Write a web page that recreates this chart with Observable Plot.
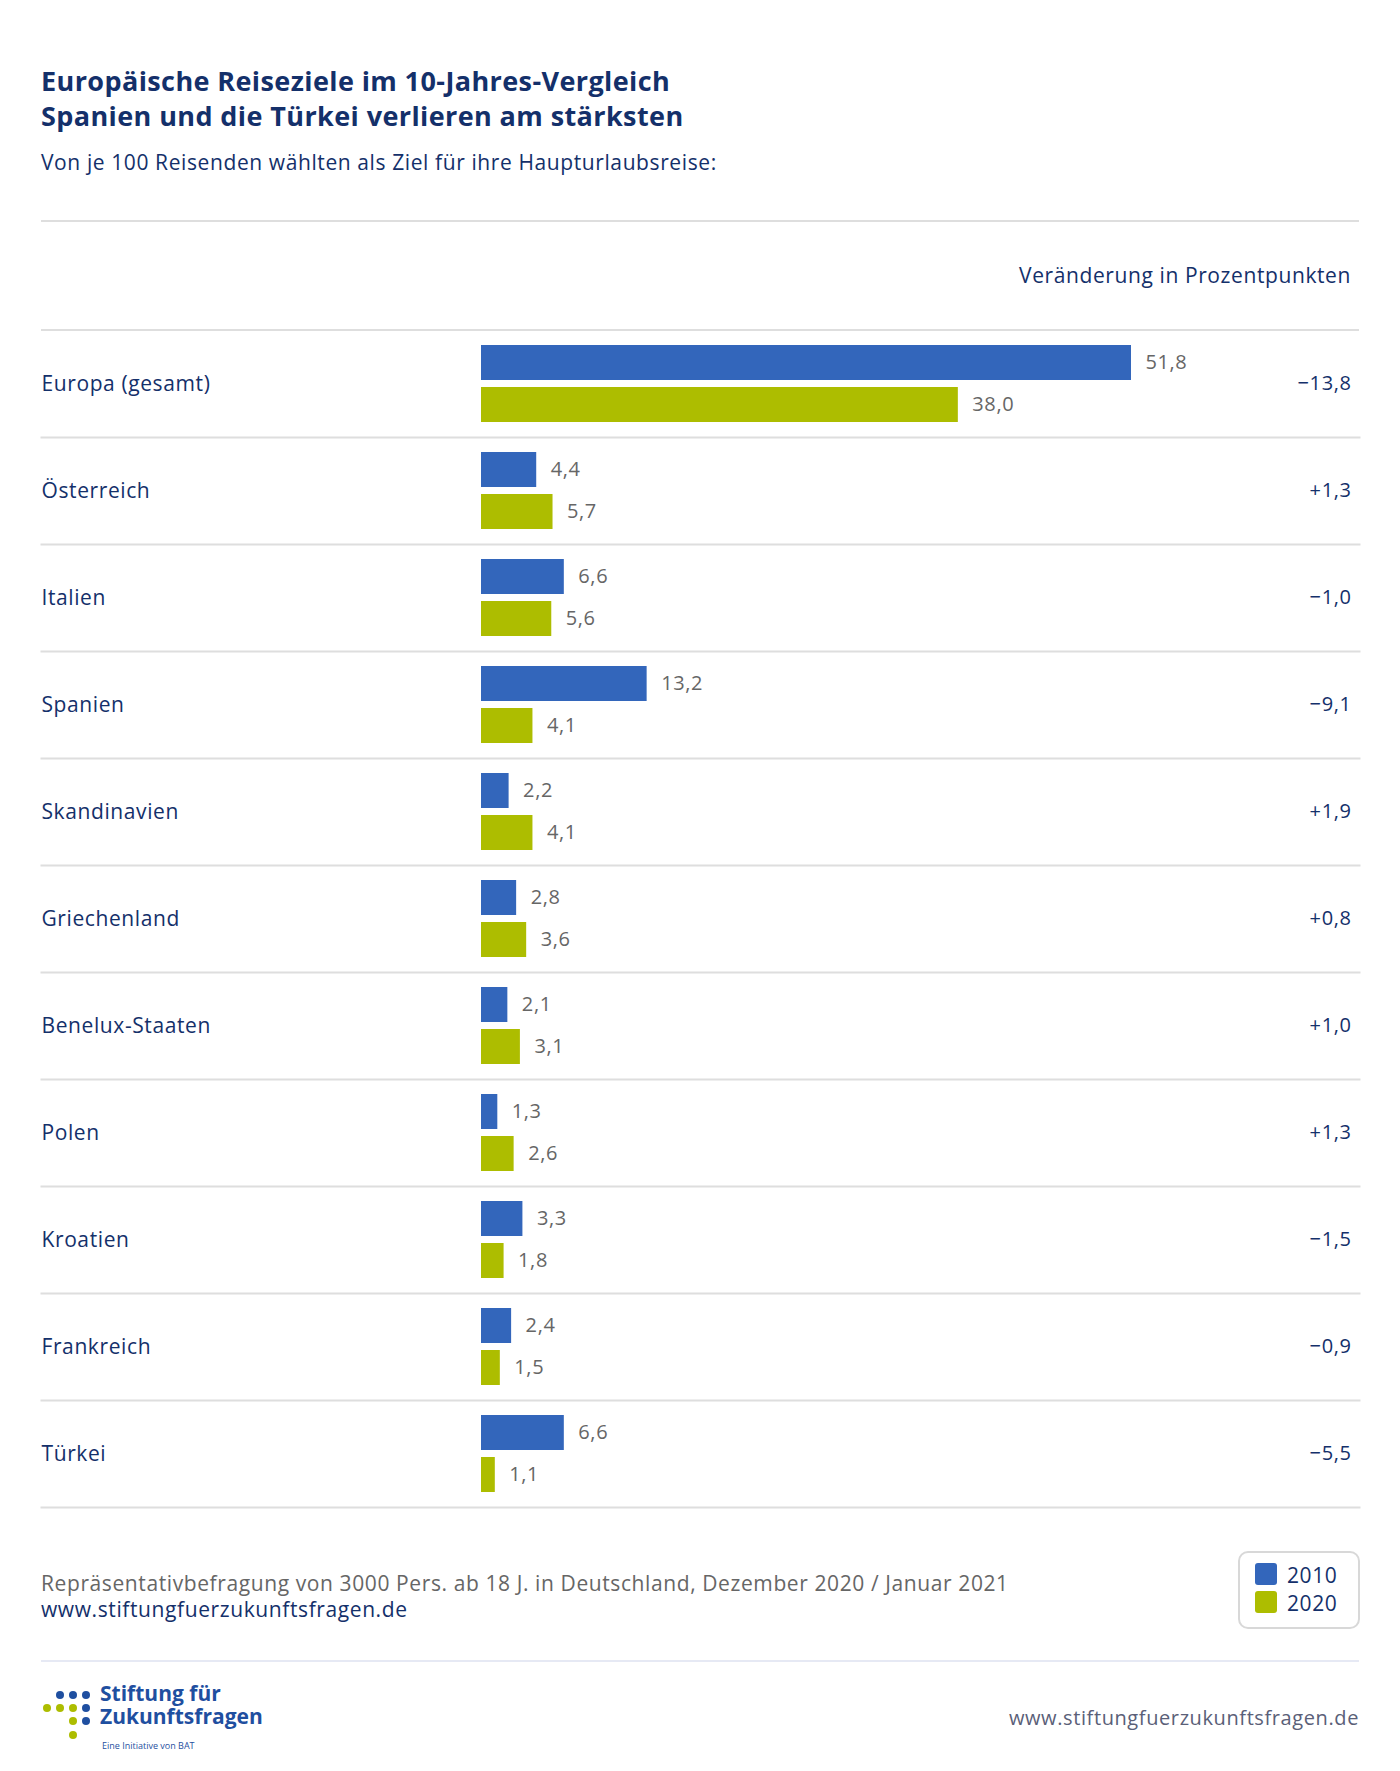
<!DOCTYPE html>
<html><head><meta charset="utf-8">
<script src="https://cdn.jsdelivr.net/npm/d3@7"></script>
<script src="https://cdn.jsdelivr.net/npm/@observablehq/plot@0.6"></script>
<style>
body{margin:0;background:#fff;font-family:"Open Sans",sans-serif;}
#page{position:relative;width:1400px;height:1771px;letter-spacing:0.6px;}
.a{position:absolute;white-space:nowrap;}
.rule{position:absolute;left:41px;width:1318px;height:2px;background:#dedede;}
.dot{position:absolute;width:8px;height:8px;border-radius:50%;}
</style></head><body><div id="page">
<div class="a" style="left:41px;top:63px;font-size:27px;line-height:35px;font-weight:700;color:#14306a;letter-spacing:0.4px;">Europäische Reiseziele im 10-Jahres-Vergleich<br>Spanien und die Türkei verlieren am stärksten</div>
<div class="a" style="left:41px;top:150px;font-size:21px;line-height:24px;color:#14306a;">Von je 100 Reisenden wählten als Ziel für ihre Haupturlaubsreise:</div>
<div class="rule" style="top:220px;"></div>
<div class="a" style="right:49px;top:263px;font-size:21px;line-height:24px;color:#14306a;">Veränderung in Prozentpunkten</div>
<div class="rule" style="top:329px;"></div>
<div id="chart" class="a" style="left:41px;top:330px;"></div>
<div class="a" style="left:41px;top:1570px;font-size:21px;line-height:26px;color:#666;">Repräsentativbefragung von 3000 Pers. ab 18 J. in Deutschland, Dezember 2020 / Januar 2021<br><span style="color:#14306a">www.stiftungfuerzukunftsfragen.de</span></div>
<div class="a" style="left:1238px;top:1551px;width:118px;height:74px;border:2px solid #d8d8d8;border-radius:10px;"></div>
<div class="a" style="left:1255px;top:1563px;width:22px;height:22px;background:#3366bb;border-radius:3px;"></div>
<div class="a" style="left:1255px;top:1591px;width:22px;height:22px;background:#adbd00;border-radius:3px;"></div>
<div class="a" style="left:1287px;top:1561px;font-size:21px;line-height:28px;color:#14306a;">2010<br>2020</div>
<div class="rule" style="top:1660px;background:#e6e9f4;"></div>
<div class="dot" style="left:56px;top:1691px;background:#1f4fa0"></div>
<div class="dot" style="left:69px;top:1691px;background:#1f4fa0"></div>
<div class="dot" style="left:82px;top:1691px;background:#1f4fa0"></div>
<div class="dot" style="left:43px;top:1704px;background:#adbd00"></div>
<div class="dot" style="left:56px;top:1704px;background:#adbd00"></div>
<div class="dot" style="left:69px;top:1704px;background:#adbd00"></div>
<div class="dot" style="left:82px;top:1704px;background:#1f4fa0"></div>
<div class="dot" style="left:69px;top:1717px;background:#adbd00"></div>
<div class="dot" style="left:82px;top:1717px;background:#1f4fa0"></div>
<div class="dot" style="left:69px;top:1731px;background:#adbd00"></div>
<div class="a" style="left:100px;top:1682px;font-size:21px;line-height:23px;font-weight:700;color:#1f4fa0;letter-spacing:0px;">Stiftung für<br>Zukunftsfragen</div>
<div class="a" style="left:102px;top:1741px;font-size:9px;line-height:10px;color:#1f4fa0;letter-spacing:0px;">Eine Initiative von BAT</div>
<div class="a" style="right:41px;top:1704px;font-size:20px;color:#5a6078;">www.stiftungfuerzukunftsfragen.de</div>
</div>
<script>
const countries = ["Europa (gesamt)","Österreich","Italien","Spanien","Skandinavien","Griechenland","Benelux-Staaten","Polen","Kroatien","Frankreich","Türkei"];
const v2010 = [51.8,4.4,6.6,13.2,2.2,2.8,2.1,1.3,3.3,2.4,6.6];
const v2020 = [38.0,5.7,5.6,4.1,4.1,3.6,3.1,2.6,1.8,1.5,1.1];
const changes = ["−13,8","+1,3","−1,0","−9,1","+1,9","+0,8","+1,0","+1,3","−1,5","−0,9","−5,5"];
const years = ["2010","2020"];
const bars = countries.flatMap((c,i)=>[{country:c,year:"2010",value:v2010[i]},{country:c,year:"2020",value:v2020[i]}]);
const rows = countries.map((c,i)=>({country:c,change:changes[i]}));
const fmt = v => v.toFixed(1).replace(".",",");
const chart = Plot.plot({
  width:1318, height:11*107, marginTop:0, marginBottom:0, marginLeft:440, marginRight:0,
  style:{fontFamily:"'Open Sans',sans-serif", fontSize:"21px", background:"transparent", overflow:"visible", letterSpacing:"0.6px"},
  x:{domain:[0,51.8], range:[440,1090], axis:null},
  y:{domain:years, paddingInner:7/42, paddingOuter:0.357, axis:null},
  fy:{domain:countries, padding:0, axis:null},
  color:{domain:years, range:["#3366bb","#adbd00"]},
  marks:[
    Plot.frame({anchor:"bottom", stroke:"#dedede", strokeWidth:2, insetLeft:-440}),
    Plot.barX(bars,{fy:"country", y:"year", x:"value", fill:"year"}),
    Plot.text(bars,{fy:"country", y:"year", x:"value", text:d=>fmt(d.value), textAnchor:"start", dx:14, fill:"#666", fontSize:20}),
    Plot.text(rows,{fy:"country", text:"country", frameAnchor:"left", textAnchor:"start", dx:-440, fill:"#14306a"}),
    Plot.text(rows,{fy:"country", text:"change", frameAnchor:"right", textAnchor:"end", dx:-8, fill:"#14306a", fontSize:20})
  ]
});
document.getElementById("chart").append(chart);
</script></body></html>
